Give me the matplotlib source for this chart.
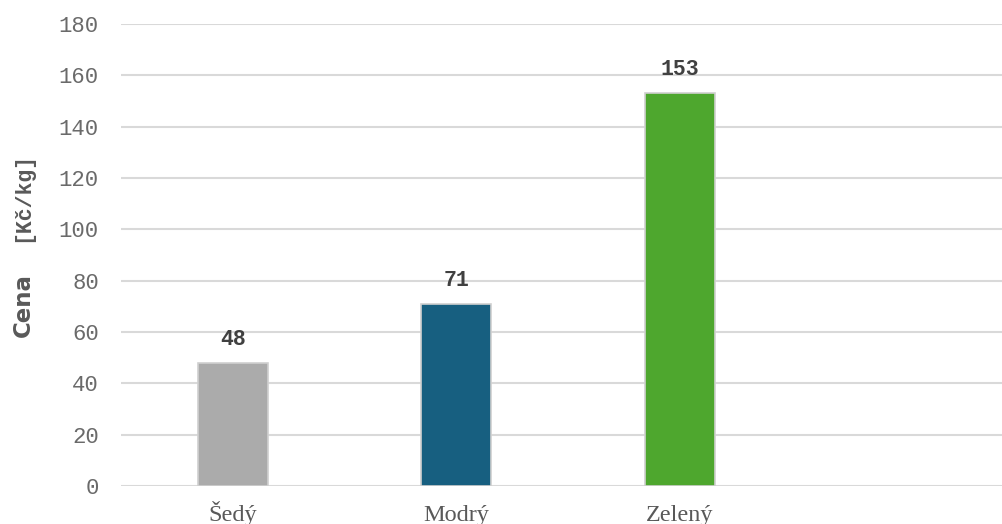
import matplotlib
matplotlib.use("Agg")
import matplotlib.pyplot as plt
from matplotlib import transforms

# Data
categories = ["Šedý", "Modrý", "Zelený"]
prices = [48, 71, 153]
bar_colors = ["#ababab", "#175f80", "#4ea72e"]
y_ticks = [0, 20, 40, 60, 80, 100, 120, 140, 160, 180]

W, H = 1003, 524
fig = plt.figure(figsize=(W / 100, H / 100), dpi=100)

# plot area: category slots are ~223.5 px wide, starting at x=121
left_px, right_px, top_px, bottom_px = 121, 1003, 24, 486
slot_px = 223.5
ax = fig.add_axes([left_px / W, (H - bottom_px) / H,
                   (right_px - left_px) / W, (bottom_px - top_px) / H])

x = list(range(len(categories)))
ax.bar(x, prices, width=70 / slot_px, color=bar_colors,
       edgecolor="#d0d0d0", linewidth=1.2, zorder=3)

ax.set_xlim(-0.5, -0.5 + (right_px - left_px) / slot_px)
ax.set_ylim(0, 180)

# horizontal gridlines
ax.set_yticks(y_ticks)
ax.yaxis.grid(True, color="#d9d9d9", linewidth=1.5, zorder=0)
ax.set_axisbelow(True)
for s in ax.spines.values():
    s.set_visible(False)
ax.tick_params(axis="y", length=0, pad=16, labelsize=16,
               labelcolor="#6a6a6a")
for lab in ax.get_yticklabels():
    lab.set_fontfamily("Liberation Mono")

ax.set_xticks([])

# category labels
tr = transforms.blended_transform_factory(ax.transData, fig.transFigure)
for xi, name in zip(x, categories):
    ax.text(xi, (H - 521) / H, name, transform=tr, ha="center",
            va="baseline", fontsize=17.5, color="#595959",
            family="Liberation Serif")

# value labels above bars
for xi, v in zip(x, prices):
    ax.annotate(f"{v}", (xi, v), xytext=(0, 13), textcoords="offset points",
                ha="center", va="baseline", fontsize=15.5, fontweight="bold",
                color="#404040", family="Liberation Mono")

# y-axis title in two parts
fig.text(23 / W, (H - 305.5) / H, "Cena", rotation=90, ha="center",
         va="center", fontsize=16.5, fontweight="bold", color="#595959",
         family="DejaVu Sans")
fig.text(23 / W, (H - 196.5) / H, "[Kč/kg]", rotation=90, ha="center",
         va="center", fontsize=15.5, fontweight="bold", color="#595959",
         family="Liberation Mono")

fig.savefig("out.png", dpi=100)
